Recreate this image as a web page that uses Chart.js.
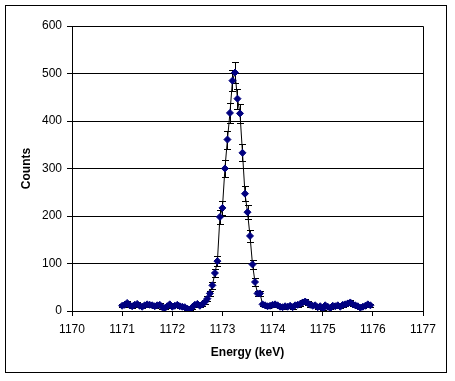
<!DOCTYPE html>
<html><head><meta charset="utf-8">
<script src="https://cdn.jsdelivr.net/npm/chart.js@4.4.0/dist/chart.umd.min.js"></script>
<style>html,body{margin:0;padding:0;background:#fff}#wrap{width:455px;height:381px;position:relative}</style>
</head><body><div id="wrap"><canvas id="c"></canvas></div>
<script>
const energies = [
1171.00,1171.05,1171.10,1171.15,1171.20,1171.25,1171.30,1171.35,1171.40,1171.45,
1171.50,1171.55,1171.60,1171.65,1171.70,1171.75,1171.80,1171.85,1171.90,1171.95,
1172.00,1172.05,1172.10,1172.15,1172.20,1172.25,1172.30,1172.35,1172.40,1172.45,
1172.50,1172.55,1172.60,1172.65,1172.70,1172.75,1172.80,1172.85,1172.90,1172.95,
1173.00,1173.05,1173.10,1173.15,1173.20,1173.25,1173.30,1173.35,1173.40,1173.45,
1173.50,1173.55,1173.60,1173.65,1173.70,1173.75,1173.80,1173.85,1173.90,1173.95,
1174.00,1174.05,1174.10,1174.15,1174.20,1174.25,1174.30,1174.35,1174.40,1174.45,
1174.50,1174.55,1174.60,1174.65,1174.70,1174.75,1174.80,1174.85,1174.90,1174.95,
1175.00,1175.05,1175.10,1175.15,1175.20,1175.25,1175.30,1175.35,1175.40,1175.45,
1175.50,1175.55,1175.60,1175.65,1175.70,1175.75,1175.80,1175.85,1175.90,1175.95];
const counts = [
11,13,17,12,10,13,15,11,9,12,
14,13,12,10,12,13,8,6,10,14,
9,11,13,10,9,8,5,3,8,13,
15,11,14,19,26,37,54,80,105,198,
217,300,361,417,485,502,447,416,333,247,
208,158,98,61,37,37,14,12,10,11,
13,14,12,9,8,10,9,11,8,12,
13,15,18,20,17,13,11,12,8,10,
5,12,9,6,11,10,12,9,13,14,
16,18,14,12,10,7,9,11,14,12];
const xTicks = [1170,1171,1172,1173,1174,1175,1176,1177];
const yTicks = [0,100,200,300,400,500,600];
const xTitle = 'Energy (keV)';
const yTitle = 'Counts';

const FAM = '"Liberation Sans", Arial, sans-serif';

const errorBars = {
  id: 'errorBars',
  beforeDatasetsDraw(chart) {
    const ctx = chart.ctx, xs = chart.scales.x, ys = chart.scales.y;
    ctx.save();
    ctx.strokeStyle = '#000';
    ctx.lineWidth = 1;
    ctx.beginPath();
    for (let i = 0; i < counts.length; i++) {
      const err = Math.sqrt(counts[i]);
      const px = Math.round(xs.getPixelForValue(energies[i])) + 0.5;
      const y1 = Math.round(ys.getPixelForValue(counts[i] + err)) + 0.5;
      const y2 = Math.round(ys.getPixelForValue(Math.max(0, counts[i] - err))) + 0.5;
      ctx.moveTo(px, y1); ctx.lineTo(px, y2);
      ctx.moveTo(px - 3.5, y1); ctx.lineTo(px + 3.5, y1);
      ctx.moveTo(px - 3.5, y2); ctx.lineTo(px + 3.5, y2);
    }
    ctx.stroke();
    ctx.restore();
  },
  afterDraw(chart) {
    const ctx = chart.ctx, a = chart.chartArea;
    ctx.save();
    ctx.strokeStyle = '#000';
    ctx.lineWidth = 1;
    ctx.beginPath();
    ctx.moveTo(Math.round(a.left) + 0.5, Math.round(a.top) + 0.5);
    ctx.lineTo(Math.round(a.right) + 0.5, Math.round(a.top) + 0.5);
    ctx.lineTo(Math.round(a.right) + 0.5, Math.round(a.bottom) + 0.5);
    ctx.stroke();
    ctx.strokeRect(5.5, 5.5, 441, 367);
    ctx.restore();
  }
};

new Chart(document.getElementById('c'), {
  type: 'line',
  data: {
    datasets: [{
      data: energies.map((e, i) => ({x: e, y: counts[i]})),
      borderColor: '#000',
      borderWidth: 1,
      backgroundColor: '#000080',
      pointBackgroundColor: '#000080',
      pointBorderColor: '#000080',
      pointBorderWidth: 1,
      pointStyle: 'rectRot',
      pointRadius: 3.5,
      tension: 0,
      fill: false
    }]
  },
  options: {
    responsive: true,
    maintainAspectRatio: false,
    animation: false,
    devicePixelRatio: 1,
    layout: {padding: {top: 26, right: 32, left: 0, bottom: 0}},
    plugins: {legend: {display: false}, tooltip: {enabled: false}},
    scales: {
      x: {
        type: 'linear', min: 1170, max: 1177,
        afterBuildTicks: s => { s.ticks = xTicks.map(v => ({value: v})); },
        grid: {drawOnChartArea: false, drawTicks: true, tickLength: 5, color: '#000'},
        border: {color: '#000', width: 1},
        ticks: {color: '#000', font: {family: FAM, size: 12}, padding: 6, maxRotation: 0, autoSkip: false,
                callback: v => String(v)},
        title: {display: true, text: xTitle, color: '#000', font: {family: FAM, size: 12, weight: 'bold'}, padding: {top: 0, bottom: 21}},
        afterFit: s => { s.height = 70; }
      },
      y: {
        type: 'linear', min: 0, max: 600,
        afterBuildTicks: s => { s.ticks = yTicks.map(v => ({value: v})); },
        grid: {color: '#000', tickLength: 5, drawTicks: true},
        border: {color: '#000', width: 1},
        ticks: {color: '#000', font: {family: FAM, size: 12}, padding: 5, callback: v => String(v)},
        title: {display: true, text: yTitle, color: '#000', font: {family: FAM, size: 12, weight: 'bold'}, padding: {top: 19.5, bottom: 0}},
        afterFit: s => { s.width = 72; }
      }
    }
  },
  plugins: [errorBars]
});
</script></body></html>
